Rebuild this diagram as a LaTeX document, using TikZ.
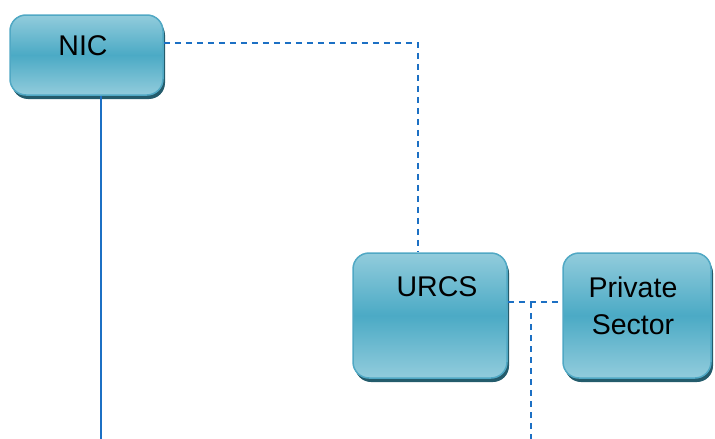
\documentclass[tikz,border=0pt]{standalone}
\usepackage{fontspec}
\setmainfont{Liberation Sans}
\usetikzlibrary{shadows}

\definecolor{boxlight}{RGB}{146,204,220}
\definecolor{boxmid}{RGB}{75,170,197}
\definecolor{boxedge}{RGB}{80,168,196}
\definecolor{boxshade}{RGB}{36,92,108}
\definecolor{linkblue}{RGB}{28,112,196}

\tikzset{
  unit/.style={shape=rectangle, rounded corners=16pt, draw=boxedge, line width=1.5pt,
    top color=boxlight, bottom color=boxlight, middle color=boxmid,
    drop shadow={shadow xshift=2pt, shadow yshift=-4pt, fill=boxshade, opacity=1}},
  caption/.style={font=\fontsize{28.5}{37}\selectfont, align=center, inner sep=0pt},
  solidlink/.style={draw=linkblue, line width=1.6pt},
  dashlink/.style={draw=linkblue, line width=1.6pt, dash pattern=on 6pt off 5pt}
}

\begin{document}
\begin{tikzpicture}[x=1pt,y=-1pt]
\useasboundingbox (0,0) rectangle (715,439);

\node[unit, minimum width=153pt, minimum height=80pt] (NIC) at (86.5,55) {};
\node[unit, minimum width=154pt, minimum height=125pt] (URCS) at (430,315.5) {};
\node[unit, minimum width=148pt, minimum height=125pt] (PS) at (637,315.5) {};

\node[caption] (NICtext) at (83,46) {NIC};
\node[caption] (URCStext) at (437,287) {URCS};
\node[caption] (PStext) at (633,305.5) {Private\\Sector};

\coordinate (NICend) at (101,439);
\coordinate (split) at (531,302);
\coordinate (splitend) at (531,439);

\path[solidlink] ([xshift=14.5pt]NIC.south) -- (NICend);
\path[dashlink] ([yshift=12pt]NIC.east) -| ([xshift=-12pt]URCS.north);
\path[dashlink] ([yshift=13.5pt]URCS.east) -- ([yshift=13.5pt]PS.west);
\path[dashlink] (split) -- (splitend);

\end{tikzpicture}
\end{document}
